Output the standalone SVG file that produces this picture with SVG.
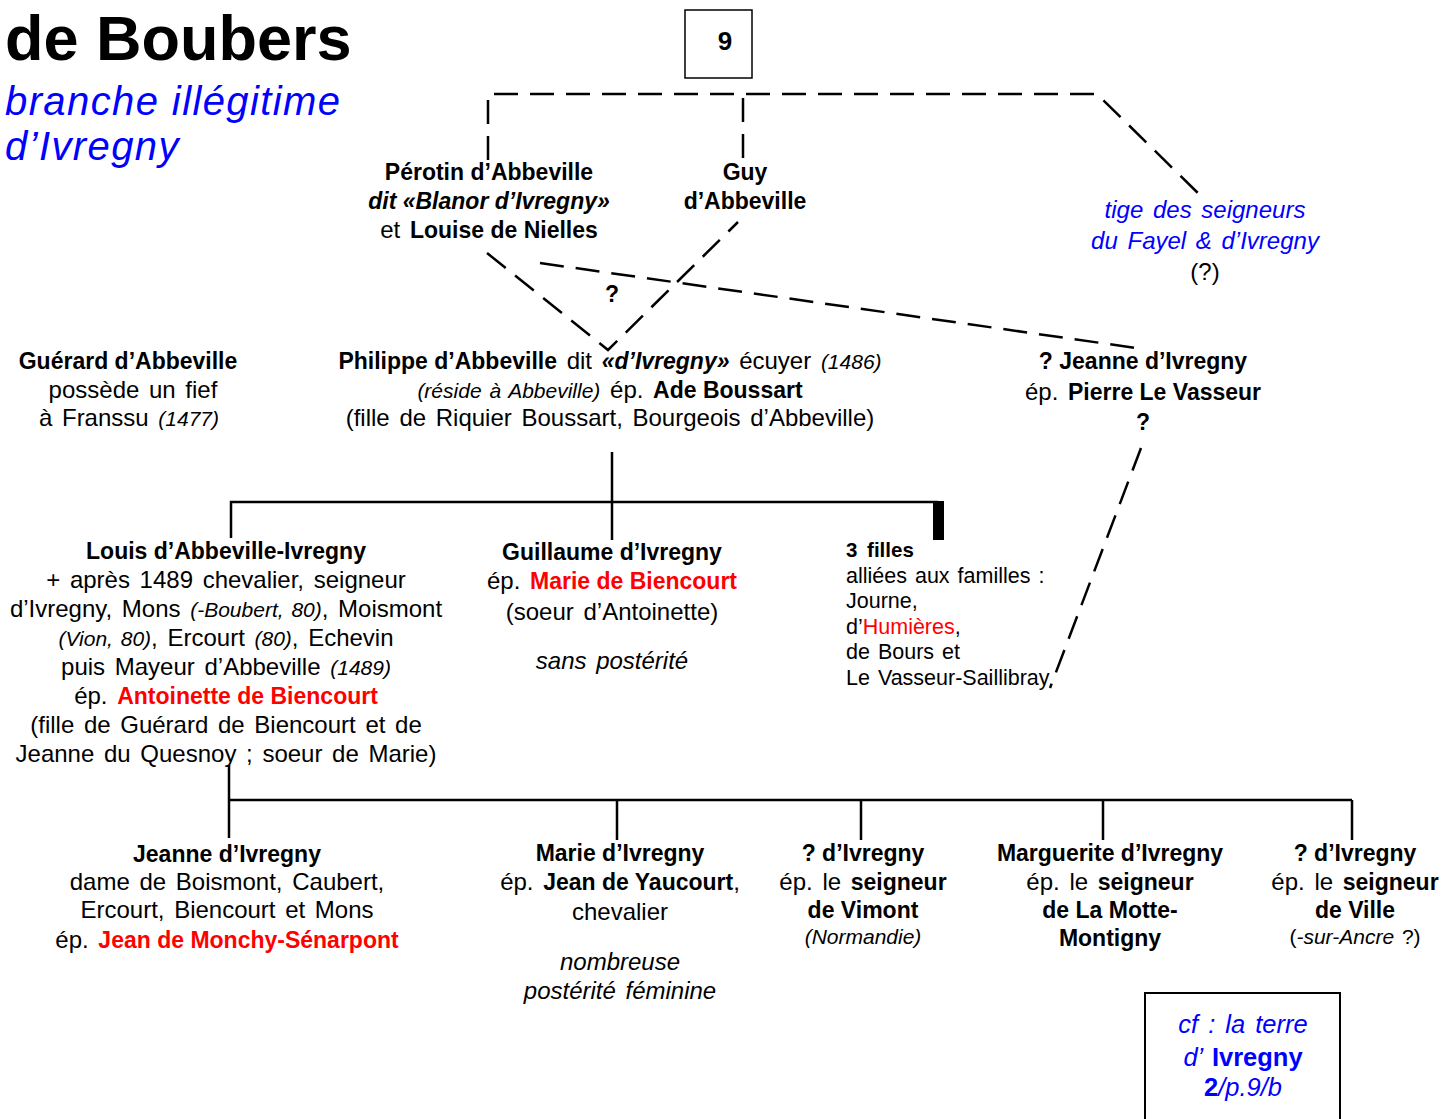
<svg xmlns="http://www.w3.org/2000/svg" width="1443" height="1119" viewBox="0 0 1443 1119">
<style>
text{font-family:"Liberation Sans",Arial,sans-serif;font-size:24px;word-spacing:3px;fill:#000;text-anchor:middle}
.l{text-anchor:start}
.b{font-weight:bold;font-size:23px;word-spacing:0}
.i{font-style:italic}
.s{font-size:21px;word-spacing:2px}
.red{fill:#ff0000}
.blue{fill:#0000ff}
.f{font-size:21.5px;word-spacing:2px}
.d{fill:none;stroke:#000;stroke-width:2.5;stroke-dasharray:24 12}
.c{fill:none;stroke:#000;stroke-width:2.5}
</style>
<rect width="1443" height="1119" fill="#fff"/>
<g id="title">
<text class="l" x="5" y="60" style="font-size:63px;font-weight:bold;word-spacing:0">de Boubers</text>
<text class="l i blue" x="5" y="115" style="font-size:40px;letter-spacing:1.4px;word-spacing:0">branche illégitime</text>
<text class="l i blue" x="5" y="160" style="font-size:40px;letter-spacing:1.4px;word-spacing:0">d’Ivregny</text>
</g>
<g id="connectors">
<path class="d" d="M488,160 L488,94 L1097,94 L1203,198"/>
<path class="d" d="M743,158 L743,94"/>
<path class="d" d="M487,253 L608,350 L738,222"/>
<path class="d" d="M540,263 L1136,348"/>
<path class="d" d="M1141,448 L1050,688"/>
<path class="c" d="M612,452 L612,540 M231,538 L231,502 L938,502"/>
<rect x="933" y="501" width="11" height="39" fill="#000"/>
<path class="c" d="M229,765 L229,838 M229,800 L1352,800 M617,800 L617,840 M861,800 L861,840 M1103,800 L1103,840 M1352,800 L1352,840"/>
</g>
<g id="box9">
<rect x="685" y="10" width="67" height="68" fill="#fff" stroke="#000" stroke-width="1.5"/>
<text class="b" x="725" y="50" style="font-size:26px">9</text>
</g>
<g id="perotin">
<text class="b" x="489" y="180">Pérotin d’Abbeville</text>
<text class="b i" x="489" y="209">dit «Blanor d’Ivregny»</text>
<text x="489" y="238">et <tspan class="b">Louise de Nielles</tspan></text>
</g>
<g id="guy">
<text class="b" x="745" y="180">Guy</text>
<text class="b" x="745" y="209">d’Abbeville</text>
</g>
<g id="q1"><text class="b" x="612" y="302">?</text></g>
<g id="tige">
<text class="i blue" x="1205" y="218">tige des seigneurs</text>
<text class="i blue" x="1205" y="249">du Fayel &amp; d’Ivregny</text>
<text x="1205" y="280">(?)</text>
</g>
<g id="guerard">
<text class="b" x="128" y="369">Guérard d’Abbeville</text>
<text x="133" y="398">possède un fief</text>
<text x="129" y="426">à Franssu <tspan class="i s">(1477)</tspan></text>
</g>
<g id="philippe">
<text x="610" y="369"><tspan class="b">Philippe d’Abbeville</tspan> dit <tspan class="b i">«d’Ivregny»</tspan> écuyer <tspan class="i s">(1486)</tspan></text>
<text x="610" y="398"><tspan class="i s">(réside à Abbeville)</tspan> ép. <tspan class="b">Ade Boussart</tspan></text>
<text x="610" y="426">(fille de Riquier Boussart, Bourgeois d’Abbeville)</text>
</g>
<g id="jeanne-lv">
<text class="b" x="1143" y="369">? Jeanne d’Ivregny</text>
<text x="1143" y="400">ép. <tspan class="b">Pierre Le Vasseur</tspan></text>
<text class="b" x="1143" y="430">?</text>
</g>
<g id="louis">
<text class="b" x="226" y="559">Louis d’Abbeville-Ivregny</text>
<text x="226" y="588">+ après 1489 chevalier, seigneur</text>
<text x="226" y="617">d’Ivregny, Mons <tspan class="i s">(-Boubert, 80)</tspan>, Moismont</text>
<text x="226" y="646"><tspan class="i s">(Vion, 80)</tspan>, Ercourt <tspan class="i s">(80)</tspan>, Echevin</text>
<text x="226" y="675">puis Mayeur d’Abbeville <tspan class="i s">(1489)</tspan></text>
<text x="226" y="704">ép. <tspan class="b red">Antoinette de Biencourt</tspan></text>
<text x="226" y="733">(fille de Guérard de Biencourt et de</text>
<text x="226" y="762">Jeanne du Quesnoy ; soeur de Marie)</text>
</g>
<g id="guillaume">
<text class="b" x="612" y="560">Guillaume d’Ivregny</text>
<text x="612" y="589">ép. <tspan class="b red">Marie de Biencourt</tspan></text>
<text x="612" y="620">(soeur d’Antoinette)</text>
<text class="i" x="612" y="669">sans postérité</text>
</g>
<g id="filles">
<text class="l b" x="846" y="557" style="font-size:20.5px;word-spacing:4px">3 filles</text>
<text class="l f" x="846" y="583">alliées aux familles :</text>
<text class="l f" x="846" y="608">Journe,</text>
<text class="l f" x="846" y="634">d’<tspan class="red">Humières</tspan>,</text>
<text class="l f" x="846" y="659">de Bours et</text>
<text class="l f" x="846" y="685">Le Vasseur-Saillibray</text>
</g>
<g id="jeanne-m">
<text class="b" x="227" y="862">Jeanne d’Ivregny</text>
<text x="227" y="890">dame de Boismont, Caubert,</text>
<text x="227" y="918">Ercourt, Biencourt et Mons</text>
<text x="227" y="948">ép. <tspan class="b red">Jean de Monchy-Sénarpont</tspan></text>
</g>
<g id="marie">
<text class="b" x="620" y="861">Marie d’Ivregny</text>
<text x="620" y="890">ép. <tspan class="b">Jean de Yaucourt</tspan>,</text>
<text x="620" y="920">chevalier</text>
<text class="i" x="620" y="970">nombreuse</text>
<text class="i" x="620" y="999">postérité féminine</text>
</g>
<g id="vimont">
<text class="b" x="863" y="861">? d’Ivregny</text>
<text x="863" y="890">ép. le <tspan class="b">seigneur</tspan></text>
<text class="b" x="863" y="918">de Vimont</text>
<text class="i s" x="863" y="944">(Normandie)</text>
</g>
<g id="marguerite">
<text class="b" x="1110" y="861">Marguerite d’Ivregny</text>
<text x="1110" y="890">ép. le <tspan class="b">seigneur</tspan></text>
<text class="b" x="1110" y="918">de La Motte-</text>
<text class="b" x="1110" y="946">Montigny</text>
</g>
<g id="ville">
<text class="b" x="1355" y="861">? d’Ivregny</text>
<text x="1355" y="890">ép. le <tspan class="b">seigneur</tspan></text>
<text class="b" x="1355" y="918">de Ville</text>
<text class="s" x="1355" y="944">(<tspan class="i">-sur-Ancre</tspan> ?)</text>
</g>
<g id="cf">
<rect x="1145" y="993" width="195" height="140" fill="#fff" stroke="#000" stroke-width="2"/>
<text class="i blue" x="1243" y="1033" style="font-size:25.5px">cf : la terre</text>
<text class="blue" x="1243" y="1066" style="font-size:25.5px"><tspan class="i">d’ </tspan><tspan class="b" style="font-size:25.5px">Ivregny</tspan></text>
<text class="blue" x="1243" y="1096" style="font-size:25.5px"><tspan class="b" style="font-size:25.5px">2</tspan><tspan class="i">/p.9/b</tspan></text>
</g>
</svg>
